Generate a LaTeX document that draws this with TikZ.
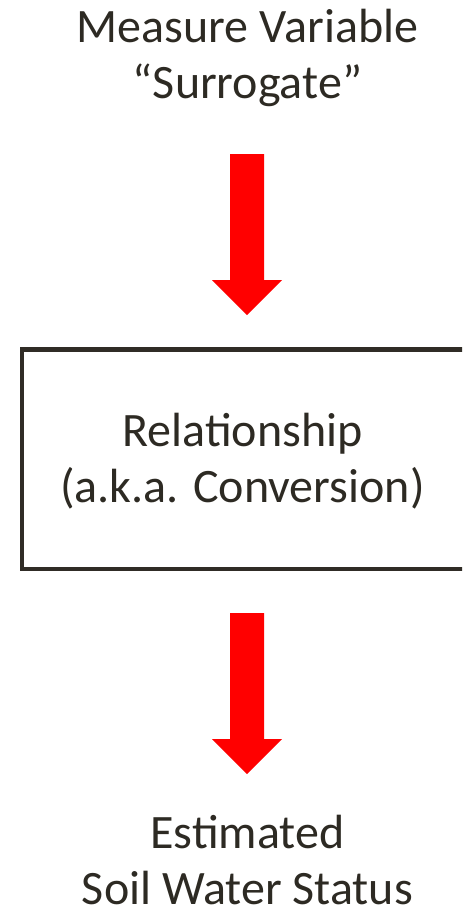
\documentclass[tikz,border=0pt]{standalone}
\usepackage{fontspec}
\setmainfont{Carlito}
\definecolor{textc}{RGB}{45,42,35}
\definecolor{boxc}{RGB}{48,44,38}
\definecolor{arrowred}{RGB}{255,0,0}
\begin{document}
\begin{tikzpicture}[x=0.75pt,y=-0.75pt,
  lbl/.style={align=center,text=textc,inner sep=0pt,anchor=base,
    font=\fontsize{36}{41.6}\selectfont},
  stepbox/.style={draw=boxc,line width=3.4pt,inner sep=0pt},
  blockarrow/.pic={\fill[arrowred] (-17,0) -- (17,0) -- (17,126) -- (35,126) -- (0,161) -- (-35,126) -- (-17,126) -- cycle;}]
\useasboundingbox (0,0) rectangle (462,910);
\clip (0,0) rectangle (462,910);
\node[lbl] (top) at (247.5,98) {Measure Variable\\“Surrogate”};
\node[stepbox,minimum width=458*0.75pt,minimum height=219.5*0.75pt] (box) at (251,459.25) {};
\node[lbl] (mid) at (242.5,502) {Relationship\\(a.k.a. Conversion)};
\node[lbl,text depth=0pt] (bot) at (247.5,904) {Estimated\\Soil Water Status};
\pic (arr1) at (247,154) {blockarrow};
\pic (arr2) at (247,613) {blockarrow};
\end{tikzpicture}
\end{document}
